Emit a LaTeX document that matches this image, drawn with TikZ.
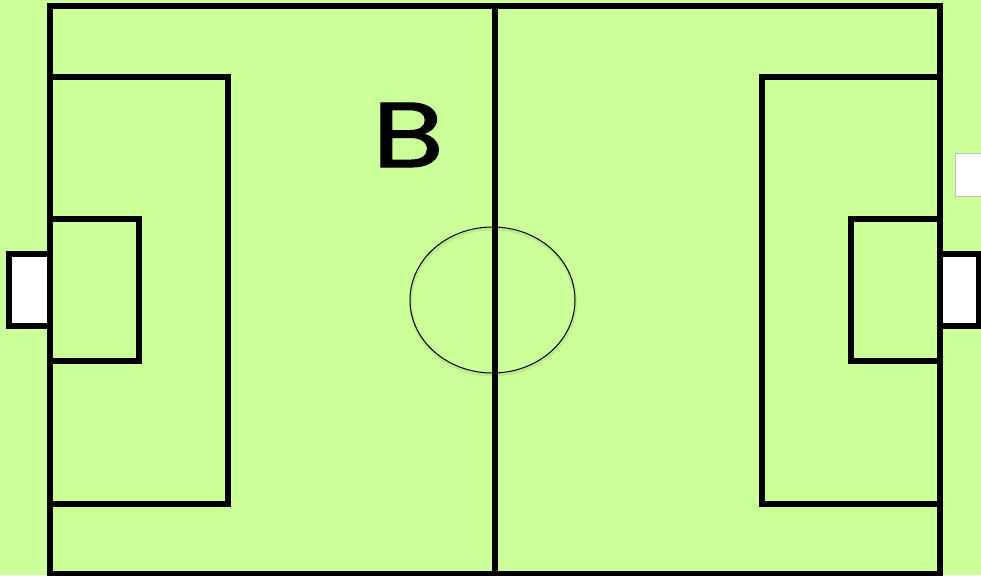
\documentclass[tikz,border=0pt]{standalone}
\usepackage{fontspec}
\newfontfamily\lettfont[FakeBold=1.2]{Poppins}
\definecolor{pitch}{HTML}{CCFF99}
\definecolor{boxgray}{HTML}{C0C0C0}
\begin{document}
\begin{tikzpicture}[x=1pt,y=-1pt,
  fieldline/.style={draw=black,line width=5.7pt,line cap=rect},
  goalbox/.style={draw=black,fill=white,line width=5.7pt}]
\useasboundingbox (0,0) rectangle (981,575);
\fill[pitch] (0,0) rectangle (981,575);
% goals
\draw[goalbox] (50,254) -- (9,254) -- (9,326) -- (50,326);
\draw[goalbox] (940,254) -- (979,254) -- (979,326) -- (940,326);
% outer boundary
\draw[fieldline] (50,6) rectangle (940,574);
% halfway line
\draw[fieldline] (495,6) -- (495,574);
% penalty areas
\draw[fieldline] (50,77) -- (228,77) -- (228,504) -- (50,504);
\draw[fieldline] (940,77) -- (762,77) -- (762,504) -- (940,504);
% goal areas
\draw[fieldline] (50,219) -- (139,219) -- (139,361) -- (50,361);
\draw[fieldline] (940,219) -- (851,219) -- (851,361) -- (940,361);
% centre circle with faint shadow
\draw[black,opacity=0.08,line width=3pt] (493,302) ellipse [x radius=82.5, y radius=73];
\draw[black,line width=1pt] (492.5,300) ellipse [x radius=82.5, y radius=73];
% small box at right edge
\draw[boxgray,fill=white,line width=1.2pt] (955.5,153.5) rectangle (985,196.5);
% letter
\node[anchor=base,inner sep=0pt,xscale=1.28,font=\lettfont\fontsize{92}{92}\selectfont] (lblB) at (408,167) {B};
\end{tikzpicture}
\end{document}
